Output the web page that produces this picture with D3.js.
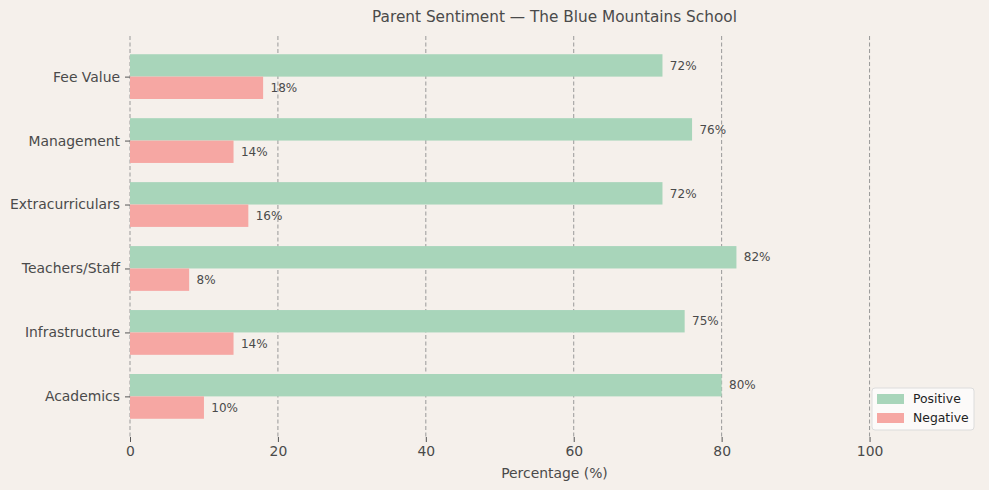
<!DOCTYPE html>
<html>
<head>
<meta charset="utf-8">
<script src="https://cdn.jsdelivr.net/npm/d3@7"></script>
<style>
  body { margin: 0; background: #f5f0eb; }
  text { font-family: "DejaVu Sans", sans-serif; fill: #4a4a4a; }
</style>
</head>
<body>
<div id="chart"></div>
<script>
var categories = ["Academics", "Infrastructure", "Teachers/Staff", "Extracurriculars", "Management", "Fee Value"];
var positive = [80, 75, 82, 72, 76, 72];
var negative = [10, 14, 8, 16, 14, 18];
var xTicks = [0, 20, 40, 60, 80, 100];

var svgWidth = 989;
var svgHeight = 490;

var margin = { top: 36, right: 10, bottom: 53, left: 130 };
var width = svgWidth - margin.left - margin.right;
var height = svgHeight - margin.top - margin.bottom;

var posColor = "#a8d5ba";
var negColor = "#f6a7a3";

var svg = d3.select("#chart")
  .append("svg")
  .attr("width", svgWidth)
  .attr("height", svgHeight);

svg.append("rect")
  .attr("width", svgWidth)
  .attr("height", svgHeight)
  .attr("fill", "#f5f0eb");

var chartGroup = svg.append("g")
  .attr("transform", `translate(${margin.left}, ${margin.top})`);

var barH = 0.35;
var xMax = d3.max(positive) * 1.4;

var xScale = d3.scaleLinear()
  .domain([0, xMax])
  .range([0, width]);

// category index on a linear scale, like matplotlib y positions
var yScale = d3.scaleLinear()
  .domain([-barH - 0.285, categories.length - 1 + barH + 0.285])
  .range([height, 0]);

// grid
chartGroup.selectAll(".grid")
  .data(xTicks)
  .enter()
  .append("line")
  .attr("x1", d => xScale(d))
  .attr("x2", d => xScale(d))
  .attr("y1", 0)
  .attr("y2", height)
  .attr("stroke", "#999")
  .attr("stroke-width", 1)
  .attr("stroke-dasharray", "4,2.5");

var data = categories.map(function(c, i) {
  return { cat: c, i: i, pos: positive[i], neg: negative[i] };
});

chartGroup.selectAll(".pos")
  .data(data)
  .enter()
  .append("rect")
  .attr("x", xScale(0))
  .attr("y", d => yScale(d.i + barH))
  .attr("width", d => xScale(d.pos) - xScale(0))
  .attr("height", d => yScale(d.i) - yScale(d.i + barH))
  .attr("fill", posColor);

chartGroup.selectAll(".neg")
  .data(data)
  .enter()
  .append("rect")
  .attr("x", xScale(0))
  .attr("y", d => yScale(d.i))
  .attr("width", d => xScale(d.neg) - xScale(0))
  .attr("height", d => yScale(d.i - barH) - yScale(d.i))
  .attr("fill", negColor);

chartGroup.selectAll(".posLabel")
  .data(data)
  .enter()
  .append("text")
  .attr("x", d => xScale(d.pos + 1))
  .attr("y", d => yScale(d.i + barH / 2))
  .attr("dy", "0.35em")
  .attr("font-size", "12px")
  .text(d => d.pos + "%");

chartGroup.selectAll(".negLabel")
  .data(data)
  .enter()
  .append("text")
  .attr("x", d => xScale(d.neg + 1))
  .attr("y", d => yScale(d.i - barH / 2))
  .attr("dy", "0.35em")
  .attr("font-size", "12px")
  .text(d => d.neg + "%");

// axes
var bottomAxis = d3.axisBottom(xScale).tickValues(xTicks).tickSize(5).tickPadding(4);
var leftAxis = d3.axisLeft(yScale)
  .tickValues(d3.range(categories.length))
  .tickFormat(i => categories[i])
  .tickSize(5).tickPadding(5);

var xAxisG = chartGroup.append("g")
  .attr("transform", `translate(0, ${height})`)
  .call(bottomAxis);

var yAxisG = chartGroup.append("g")
  .call(leftAxis);

[xAxisG, yAxisG].forEach(function(g) {
  g.select(".domain").remove();
  g.selectAll(".tick line").attr("stroke", "#555");
  g.selectAll(".tick text")
    .attr("font-size", "13.9px")
    .attr("font-family", "DejaVu Sans, sans-serif")
    .attr("fill", "#4a4a4a");
});

chartGroup.append("text")
  .attr("x", width / 2)
  .attr("y", height + 41)
  .attr("text-anchor", "middle")
  .attr("font-size", "13.9px")
  .text("Percentage (%)");

svg.append("text")
  .attr("x", margin.left + width / 2)
  .attr("y", 22)
  .attr("text-anchor", "middle")
  .attr("font-size", "15.3px")
  .text("Parent Sentiment — The Blue Mountains School");

// legend
var legend = svg.append("g")
  .attr("transform", "translate(872, 388)");

legend.append("rect")
  .attr("width", 102)
  .attr("height", 42)
  .attr("rx", 3)
  .attr("fill", "#fdfcfb")
  .attr("fill-opacity", 0.85)
  .attr("stroke", "#dcdcdc");

var legendItems = [
  { label: "Positive", color: posColor },
  { label: "Negative", color: negColor }
];

legend.selectAll(".swatch")
  .data(legendItems)
  .enter()
  .append("rect")
  .attr("x", 5)
  .attr("y", (d, i) => 6 + i * 19)
  .attr("width", 27)
  .attr("height", 10)
  .attr("fill", d => d.color);

legend.selectAll(".ltext")
  .data(legendItems)
  .enter()
  .append("text")
  .attr("x", 41)
  .attr("y", (d, i) => 11 + i * 19)
  .attr("dy", "0.35em")
  .attr("font-size", "12.4px")
  .style("fill", "#222")
  .text(d => d.label);
</script>
</body>
</html>
